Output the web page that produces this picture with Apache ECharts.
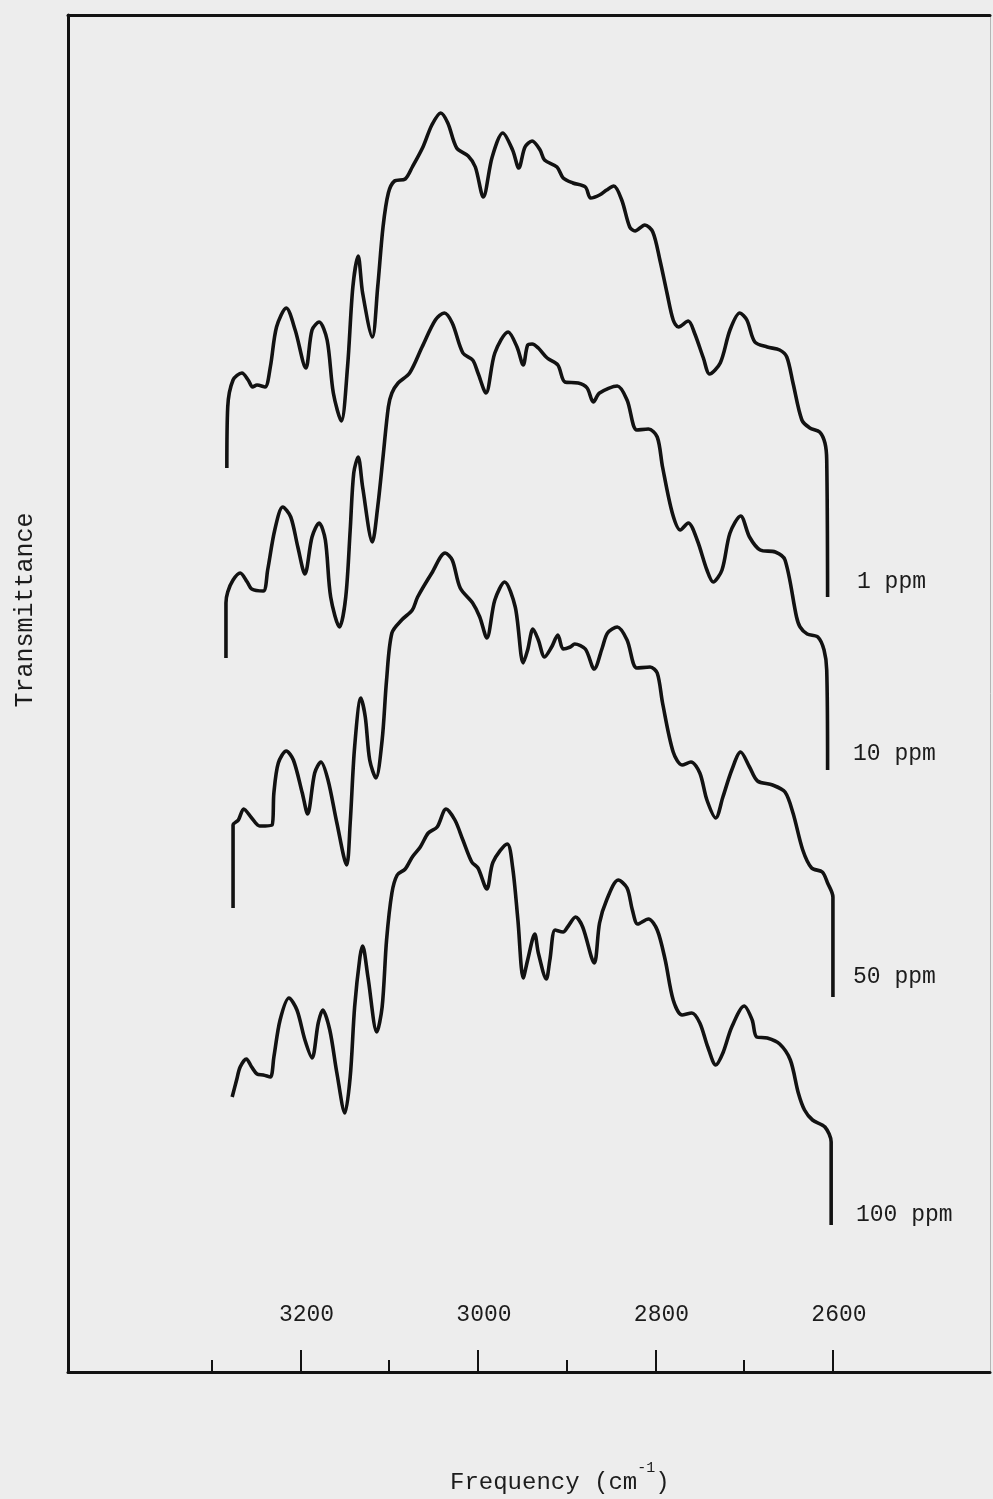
<!DOCTYPE html>
<html>
<head>
<meta charset="utf-8">
<script src="https://cdn.jsdelivr.net/npm/echarts@6/dist/echarts.min.js"></script>
<style>
html,body{margin:0;padding:0;background:#ededed;}
#chart{width:993px;height:1499px;}
</style>
</head>
<body>
<div id="chart"></div>
<script>
// ---- data (wavenumber in cm^-1, transmittance in arbitrary stacked units) ----
const ppm1Freq = [3283,3282,3276,3266,3259,3254,3249,3240,3234,3227,3216,3206,3194,3187,3179,3170,3163,3154,3147,3141,3135,3130,3119,3113,3107,3101,3094,3082,3074,3062,3052,3042,3034,3024,3011,3003,2994,2984,2972,2961,2954,2947,2939,2930,2925,2911,2904,2893,2879,2873,2863,2855,2847,2838,2829,2823,2812,2803,2795,2787,2780,2774,2763,2756,2746,2739,2727,2716,2705,2697,2688,2674,2660,2652,2645,2635,2626,2615,2609,2607,2606];
const ppm1T = [904,965,992,999,992,985,987,985,1005,1045,1064,1042,1004,1042,1050,1032,979,951,1005,1085,1116,1079,1035,1085,1145,1179,1191,1193,1205,1225,1247,1259,1249,1224,1216,1205,1175,1215,1239,1222,1204,1225,1231,1222,1212,1205,1194,1189,1185,1174,1177,1182,1186,1172,1145,1141,1147,1140,1112,1079,1052,1045,1051,1039,1014,998,1009,1042,1059,1052,1030,1025,1022,1015,989,952,944,940,929,912,775];

const ppm10Freq = [3284,3284,3282,3276,3268,3260,3255,3242,3237,3229,3220,3211,3203,3195,3187,3179,3172,3166,3156,3149,3144,3140,3135,3130,3119,3113,3107,3101,3097,3090,3077,3063,3048,3038,3029,3017,3006,3000,2991,2981,2966,2956,2949,2944,2939,2932,2922,2910,2902,2887,2877,2870,2863,2843,2832,2821,2808,2798,2792,2781,2772,2763,2753,2742,2735,2725,2716,2704,2694,2682,2665,2654,2641,2637,2629,2617,2610,2607,2606];
const ppm10T = [714,769,780,792,799,790,783,781,802,842,865,855,825,798,835,849,832,775,745,775,842,899,915,885,830,865,915,965,979,989,999,1025,1052,1059,1049,1019,1012,999,979,1019,1040,1025,1007,1027,1028,1024,1014,1007,990,989,984,970,979,986,972,942,943,935,905,859,842,849,832,802,790,802,839,856,835,822,820,812,755,745,738,735,722,702,602];

const ppm50Freq = [3276,3276,3270,3264,3255,3246,3232,3230,3225,3216,3208,3198,3192,3184,3177,3169,3159,3148,3144,3139,3132,3127,3122,3115,3108,3103,3097,3086,3074,3068,3052,3037,3029,3020,3006,2998,2990,2981,2970,2958,2949,2944,2938,2932,2925,2917,2910,2904,2896,2891,2879,2869,2860,2854,2843,2832,2821,2806,2798,2792,2780,2770,2760,2750,2742,2732,2724,2714,2704,2694,2685,2668,2654,2645,2634,2624,2612,2606,2600,2600];
const ppm50T = [464,547,552,563,554,546,547,579,609,621,612,579,558,599,610,592,549,507,549,625,674,655,612,594,632,692,739,752,762,775,799,819,812,784,769,755,734,772,790,765,709,722,743,732,715,725,737,723,725,728,723,703,724,739,745,732,704,705,699,669,620,607,610,599,572,554,575,602,620,605,591,587,580,559,522,504,500,489,475,375];

const ppm100Freq = [3277,3272,3268,3261,3255,3249,3242,3234,3230,3223,3213,3204,3195,3187,3180,3175,3167,3159,3150,3144,3139,3133,3130,3124,3114,3108,3103,3097,3091,3082,3074,3065,3056,3046,3036,3026,3017,3007,3000,2990,2983,2967,2961,2955,2949,2944,2936,2932,2923,2919,2913,2904,2899,2890,2882,2869,2863,2855,2842,2832,2826,2820,2808,2798,2789,2780,2770,2759,2750,2741,2732,2724,2714,2700,2691,2686,2674,2660,2648,2639,2632,2623,2609,2602,2602];
const ppm100T = [275,292,305,313,305,298,297,295,315,352,374,362,332,314,349,362,342,299,259,295,365,415,426,395,340,365,432,479,497,503,515,525,539,545,563,552,532,510,504,483,510,528,505,452,394,412,438,419,393,412,442,440,445,455,445,409,449,472,492,484,462,448,453,442,412,372,357,359,349,325,307,319,345,366,352,335,334,328,312,279,262,252,245,230,147];

const seriesNames = ['1 ppm', '10 ppm', '50 ppm', '100 ppm'];
const labelTickValues = [3200, 3000, 2800, 2600];
const minorTickValues = [3300, 3100, 2900, 2700];
const xAxisTitle = 'Frequency (cm';
const xAxisTitleSup = '-1';
const yAxisTitle = 'Transmittance';

// ---- chart ----
const FONT = '"Liberation Mono", "DejaVu Sans Mono", monospace';
const INK = '#121212';
const TEXT = '#1c1c1c';
const X_MIN = 2423, X_MAX = 3462;
const Y_MIN = 0, Y_MAX = 1357;

function pairs(f, t) { return f.map((v, i) => [v, t[i]]); }
const curves = [
  pairs(ppm1Freq, ppm1T),
  pairs(ppm10Freq, ppm10T),
  pairs(ppm50Freq, ppm50T),
  pairs(ppm100Freq, ppm100T)
];

const chart = echarts.init(document.getElementById('chart'), null, {renderer: 'canvas'});

const hiddenAxisParts = {
  axisTick: {show: false}, axisLabel: {show: false}, splitLine: {show: false}
};

const labelPos = [
  {x: 857, y: 582},
  {x: 853, y: 754},
  {x: 853, y: 977},
  {x: 856, y: 1215}
];

const option = {
  backgroundColor: '#ededed',
  animation: false,
  grid: {left: 68, right: 3, top: 15, bottom: 127},
  xAxis: [
    {
      type: 'value', min: X_MIN, max: X_MAX, inverse: true, position: 'bottom',
      axisLine: {show: true, onZero: false, lineStyle: {color: INK, width: 3}},
      axisTick: {show: true, inside: true, length: 22, customValues: labelTickValues,
                 lineStyle: {color: INK, width: 2}},
      axisLabel: {show: true, inside: true, margin: 46, customValues: labelTickValues,
                  formatter: v => String(v), fontFamily: FONT, fontSize: 23, color: TEXT,
                  padding: [0, 0, 0, 12]},
      splitLine: {show: false}
    },
    {
      type: 'value', min: X_MIN, max: X_MAX, inverse: true, position: 'bottom',
      axisLine: {show: false},
      axisTick: {show: true, inside: true, length: 12, customValues: minorTickValues,
                 lineStyle: {color: INK, width: 2}},
      axisLabel: {show: false}, splitLine: {show: false}
    },
    Object.assign({
      type: 'value', min: X_MIN, max: X_MAX, inverse: true, position: 'top',
      axisLine: {show: true, onZero: false, lineStyle: {color: INK, width: 3}}
    }, hiddenAxisParts)
  ],
  yAxis: [
    Object.assign({
      type: 'value', min: Y_MIN, max: Y_MAX, position: 'left',
      axisLine: {show: true, onZero: false, lineStyle: {color: INK, width: 3}}
    }, hiddenAxisParts),
    Object.assign({
      type: 'value', min: Y_MIN, max: Y_MAX, position: 'right',
      axisLine: {show: true, onZero: false, lineStyle: {color: '#b5b5b5', width: 1}}
    }, hiddenAxisParts)
  ],
  series: curves.map((d, i) => ({
    name: seriesNames[i],
    type: 'line',
    xAxisIndex: 0,
    yAxisIndex: 0,
    data: d,
    showSymbol: false,
    smooth: 0.3,
    lineStyle: {color: INK, width: 3.6},
    silent: true
  })),
  graphic: [
    ...seriesNames.map((n, i) => ({
      type: 'text', x: labelPos[i].x, y: labelPos[i].y, silent: true,
      style: {text: n, fontFamily: FONT, fontSize: 23, fill: TEXT,
              align: 'left', verticalAlign: 'middle'}
    })),
    {
      type: 'text', x: 450, y: 1483, silent: true,
      style: {
        text: xAxisTitle + '{sup|' + xAxisTitleSup + '})',
        fontFamily: FONT, fontSize: 24, fill: TEXT, lineHeight: 44,
        align: 'left', verticalAlign: 'middle',
        rich: {sup: {fontFamily: FONT, fontSize: 15, lineHeight: 16, verticalAlign: 'top', fill: TEXT}}
      }
    },
    {
      type: 'text', x: 25, y: 610, rotation: Math.PI / 2, silent: true,
      style: {text: yAxisTitle, fontFamily: FONT, fontSize: 25, fill: TEXT,
              align: 'center', verticalAlign: 'middle'}
    }
  ]
};

chart.setOption(option);
</script>
</body>
</html>
